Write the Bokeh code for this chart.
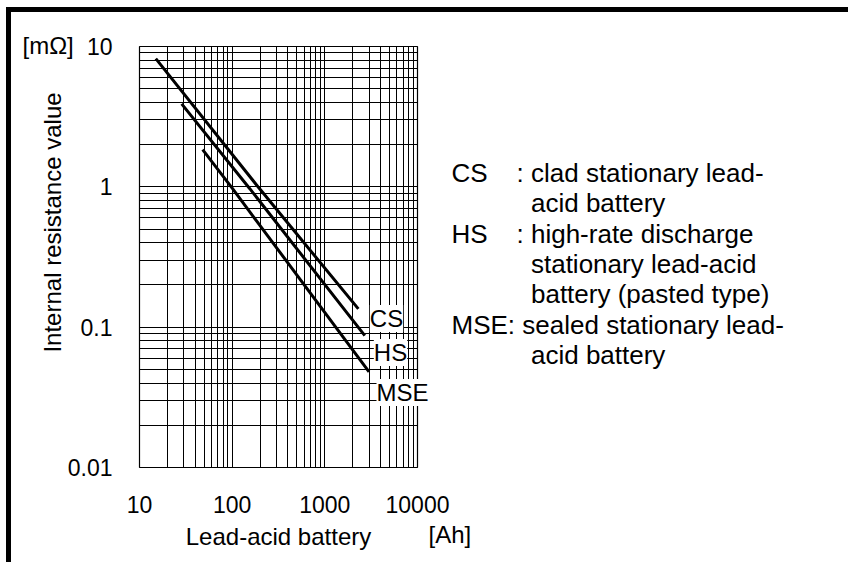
import math
from bokeh.plotting import figure
from bokeh.models import FixedTicker, Label
from bokeh.embed import file_html
from bokeh.resources import INLINE

# ---- data ----
ah_cs = [15, 200, 2300]
r_cs = [8.2, 0.96, 0.135]
ah_hs = [28.5, 155, 2700]
r_hs = [3.9, 0.97, 0.087]
ah_mse = [48, 101, 3000]
r_mse = [1.84, 0.97, 0.048]

x_ticks = [10, 100, 1000, 10000]
x_tick_labels = ["10", "100", "1000", "10000"]
y_ticks = [0.01, 0.1, 1, 10]
y_tick_labels = ["0.01", "0.1", "1", "10"]

series_tags = ["CS", "HS", "MSE"]
explanations = [
    ["clad stationary lead-", "acid battery"],
    ["high-rate discharge", "stationary lead-acid", "battery (pasted type)"],
    ["sealed stationary lead-", "acid battery"],
]

FONT = "Liberation Sans"
NB = "\u00a0"

W, H = 848, 562
ML, MT = 139, 46
FW, FH = 278, 421
MR, MB = W - ML - FW, H - MT - FH

p = figure(width=W, height=H, x_axis_type="log", y_axis_type="log",
           x_range=(10, 10000), y_range=(0.01, 10),
           output_backend="svg", toolbar_location=None,
           min_border_left=ML, min_border_right=MR,
           min_border_top=MT, min_border_bottom=MB)
p.background_fill_color = "white"
p.border_fill_color = None
p.outline_line_color = "black"
p.outline_line_width = 1.2
# thick black frame along the top and left edge of the picture
p.styles = {
    "background-color": "white",
    "background-image": "linear-gradient(#000,#000), linear-gradient(#000,#000)",
    "background-size": "5px 100%, 100% 5px",
    "background-position": "6px 7px, 6px 7px",
    "background-repeat": "no-repeat",
}

minor_x = [m * 10 ** e for e in range(1, 4) for m in range(2, 10)]
minor_y = [m * 10 ** e for e in range(-2, 1) for m in range(2, 10)]
p.xaxis.ticker = FixedTicker(ticks=x_ticks, minor_ticks=minor_x)
p.yaxis.ticker = FixedTicker(ticks=y_ticks, minor_ticks=minor_y)
p.xaxis.major_label_overrides = dict(zip(x_ticks, x_tick_labels))
p.yaxis.major_label_overrides = dict(zip(y_ticks, y_tick_labels))

for ax in (p.xaxis, p.yaxis):
    ax.axis_line_color = None
    ax.major_tick_line_color = None
    ax.minor_tick_line_color = None
    ax.major_tick_out = 0
    ax.major_tick_in = 0
    ax.minor_tick_out = 0
    ax.minor_tick_in = 0
    ax.major_label_text_font = FONT
    ax.major_label_text_font_size = "23px"
    ax.major_label_text_color = "black"

p.xaxis.major_label_standoff = 28
p.yaxis.major_label_standoff = 27
p.xaxis.axis_label = "Lead-acid battery"
p.xaxis.axis_label_text_font = FONT
p.xaxis.axis_label_text_font_style = "normal"
p.xaxis.axis_label_text_font_size = "24px"
p.xaxis.axis_label_text_color = "black"
p.xaxis.axis_label_standoff = 7

for g in (p.xgrid, p.ygrid):
    g.grid_line_color = "black"
    g.grid_line_width = 1
    g.grid_line_alpha = 1
    g.minor_grid_line_color = "black"
    g.minor_grid_line_width = 1
    g.minor_grid_line_alpha = 1

for xs, ys in ((ah_cs, r_cs), (ah_hs, r_hs), (ah_mse, r_mse)):
    p.line(xs, ys, line_color="black", line_width=3)

# pixel -> data helpers for annotation placement
DX, DY = FW / 3, FH / 3


def xd(px):
    return 10 ** (1 + (px - ML) / DX)


def yd(py):
    return 10 ** (1 - (py - MT) / DY)


def lab(text, px, py, size, align="left", baseline="middle", angle=0,
        bg=None, place="center", line_height=1.2):
    kw = {}
    if bg:
        kw = dict(background_fill_color=bg, background_fill_alpha=1.0)
    p.add_layout(Label(x=xd(px), y=yd(py), text=text, text_font=FONT,
                       text_font_size=size, text_color="black",
                       text_align=align, text_baseline=baseline,
                       text_line_height=line_height,
                       angle=angle, **kw), place)


# series tags with white boxes
lab(series_tags[0], 386, 318, "24px", align="center", bg="white")
lab(series_tags[1], 390, 352, "24px", align="center", bg="white")
lab(series_tags[2], 402, 392, "24px", align="center", bg="white", place="right")

# units and y title
lab("[mΩ]", 22, 45, "24px", place="above")
lab("[Ah]", 428, 534, "24px", place="right")
lab("Internal resistance value", 52, 222, "24px", align="center",
    angle=math.pi / 2, place="left")

# explanation block (one multi-line text)
ind = NB * 11
lines = [
    series_tags[0] + NB * 4 + ":" + NB + explanations[0][0],
    ind + explanations[0][1],
    series_tags[1] + NB * 4 + ":" + NB + explanations[1][0],
    ind + explanations[1][1],
    ind + explanations[1][2],
    series_tags[2] + ":" + NB + explanations[2][0],
    ind + explanations[2][1],
]
lab("\n".join(lines), 451, 157.5, "26px", baseline="top", place="right",
    line_height=1.01)

open("out.html", "w").write(file_html(p, INLINE))
